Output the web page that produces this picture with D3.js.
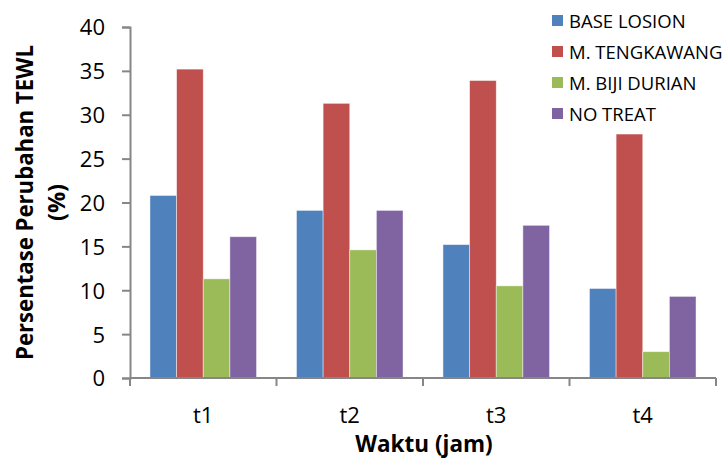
<!DOCTYPE html>
<html>
<head>
<meta charset="utf-8">
<script src="https://cdn.jsdelivr.net/npm/d3@7"></script>
<style>
  html, body { margin: 0; padding: 0; background: #fff; }
  svg { display: block; }
  text { font-family: "Open Sans", "Noto Sans", sans-serif; fill: #000; }
</style>
</head>
<body>
<svg id="chart" width="726" height="462"></svg>
<script>
// ---- data ----
const categories = ["t1", "t2", "t3", "t4"];
const seriesNames = ["BASE LOSION", "M. TENGKAWANG", "M. BIJI DURIAN", "NO TREAT"];
const baseLosion   = [20.8, 19.1, 15.2, 10.2];
const mTengkawang  = [35.2, 31.3, 33.9, 27.8];
const mBijiDurian  = [11.3, 14.6, 10.5, 3.0];
const noTreat      = [16.1, 19.1, 17.4, 9.3];
const yTicks = [0, 5, 10, 15, 20, 25, 30, 35, 40];
const colors = ["#4F81BD", "#C0504D", "#9BBB59", "#8064A2"];

const seriesValues = [baseLosion, mTengkawang, mBijiDurian, noTreat];

// ---- layout ----
const svg = d3.select("#chart");
const plot = { left: 130, right: 716, top: 27, bottom: 378 };

const x = d3.scaleBand().domain(categories).range([plot.left, plot.right]).paddingInner(0).paddingOuter(0);
const xs = d3.scaleBand().domain(seriesNames).range([0, x.bandwidth()]).paddingInner(0).paddingOuter(0.75);
const y = d3.scaleLinear().domain([0, 40]).range([plot.bottom, plot.top]);

// bars
const rows = [];
categories.forEach((c, i) => {
  seriesNames.forEach((s, j) => rows.push({ cat: c, ser: s, v: seriesValues[j][i], color: colors[j] }));
});
svg.append("g").selectAll("rect").data(rows).join("rect")
  .attr("x", d => x(d.cat) + xs(d.ser))
  .attr("width", xs.bandwidth())
  .attr("y", d => y(d.v))
  .attr("height", d => y(0) - y(d.v))
  .attr("fill", d => d.color)
  .attr("stroke", "rgba(255,255,255,0.55)")
  .attr("stroke-width", 0.8);

// y axis
const yAxis = d3.axisLeft(y).tickValues(yTicks).tickSize(8).tickPadding(17);
const gy = svg.append("g").attr("transform", `translate(${plot.left},0)`).call(yAxis);
gy.select(".domain").attr("stroke", "#868686").attr("stroke-width", 2);
gy.selectAll(".tick line").attr("stroke", "#868686").attr("stroke-width", 2);
gy.selectAll(".tick text").attr("font-size", 22).attr("font-family", "'Open Sans', sans-serif").attr("fill", "#000").attr("dy", "0.36em");

// x axis
const gx = svg.append("g").attr("transform", `translate(0,${plot.bottom})`);
gx.append("line").attr("x1", plot.left).attr("x2", plot.right).attr("y1", 0).attr("y2", 0)
  .attr("stroke", "#868686").attr("stroke-width", 2);
const bounds = categories.map(c => x(c)).concat([plot.right]);
gx.selectAll("line.tk").data(bounds).join("line").attr("class", "tk")
  .attr("x1", d => d).attr("x2", d => d).attr("y1", 0).attr("y2", 8)
  .attr("stroke", "#868686").attr("stroke-width", 2);
gx.selectAll("text").data(categories).join("text")
  .attr("x", d => x(d) + x.bandwidth() / 2)
  .attr("y", 45)
  .attr("text-anchor", "middle")
  .attr("font-size", 22)
  .text(d => d);

// axis titles
svg.append("text")
  .attr("x", (plot.left + plot.right) / 2 + 1).attr("y", 452)
  .attr("text-anchor", "middle").attr("font-weight", "bold").attr("font-size", 22.5)
  .text("Waktu (jam)");

const yt = svg.append("text")
  .attr("transform", `translate(33,${(plot.top + plot.bottom) / 2}) rotate(-90)`)
  .attr("text-anchor", "middle").attr("font-weight", "bold").attr("font-size", 23.5);
yt.append("tspan").attr("x", 0).attr("y", 0).text("Persentase Perubahan TEWL")
  .attr("textLength", 315).attr("lengthAdjust", "spacingAndGlyphs");
yt.append("tspan").attr("x", 0).attr("y", 32).text("(%)");

// legend
const lg = svg.append("g").attr("transform", "translate(552,0)");
const legY = [21, 52, 83, 114];
seriesNames.forEach((s, j) => {
  lg.append("rect").attr("x", 0).attr("y", legY[j] - 6).attr("width", 11).attr("height", 11).attr("fill", colors[j]);
  lg.append("text").attr("x", 17).attr("y", legY[j] + 6.5).attr("font-size", 18.5).text(s);
});
</script>
</body>
</html>
